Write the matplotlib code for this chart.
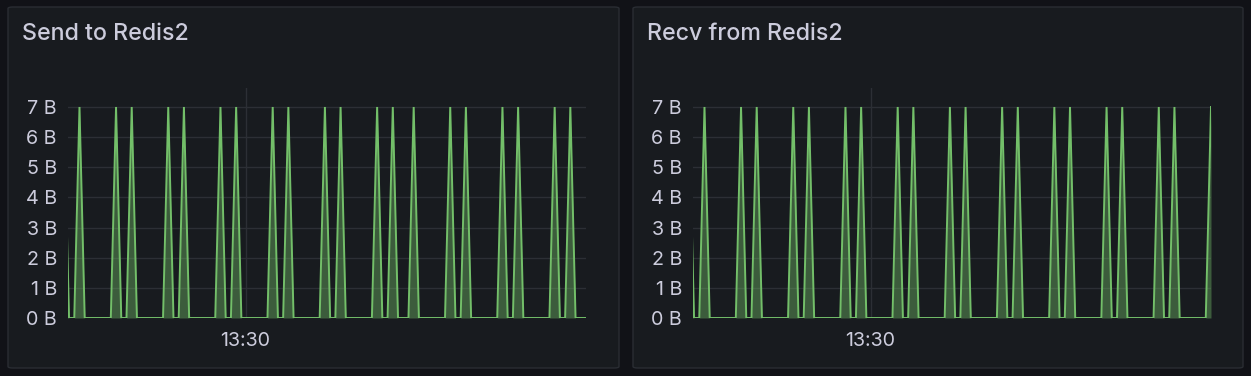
import numpy as np
import matplotlib
matplotlib.use('Agg')
import matplotlib.pyplot as plt
from matplotlib.patches import FancyBboxPatch

plt.rcParams['font.family'] = ['Inter', 'DejaVu Sans']

# sample index (one step per scrape) and bytes for each panel
send_idx = list(range(-3, 98))
send_peaks = [-3, 0, 7, 10, 17, 20, 27, 30, 37, 40, 47, 50, 57, 60, 64, 71, 74, 81, 84, 91, 94]
send_bytes = [7 if i in send_peaks else 0 for i in send_idx]

recv_idx = list(range(-3, 98))
recv_peaks = [-3, 0, 7, 10, 17, 20, 27, 30, 37, 40, 47, 50, 57, 60, 67, 70, 77, 80, 87, 90, 97]
recv_bytes = [7 if i in recv_peaks else 0 for i in recv_idx]

y_ticks = [0, 1, 2, 3, 4, 5, 6, 7]
y_labels = [f'{v} B' for v in y_ticks]
time_tick = 31.8
time_label = '13:30'

panels = [
    ('Send to Redis2', send_idx, send_bytes),
    ('Recv from Redis2', recv_idx, recv_bytes),
]

W, H = 1251, 376
fig = plt.figure(figsize=(W / 100, H / 100), dpi=100)
fig.patch.set_facecolor('#111217')

panel_boxes = [(8, 7, 611, 361), (633, 7, 610, 361)]
axes_boxes = [(68, 88, 518, 230), (693, 88, 518, 230)]

text_col = '#ccccdc'
green = '#73bf69'

for (title, xs, ys), (px, py, pw, ph), (ax_x, ax_y, ax_w, ax_h) in zip(panels, panel_boxes, axes_boxes):
    box = FancyBboxPatch((px / W, 1 - (py + ph) / H), pw / W, ph / H,
                         boxstyle='round,pad=0,rounding_size=0.004',
                         transform=fig.transFigure, facecolor='#181b1f',
                         edgecolor='#2a2d33', linewidth=1, zorder=-5)
    fig.patches.append(box)
    fig.text((px + 14) / W, 1 - 34 / H, title, color=text_col, fontsize=16.7,
             fontweight='medium', va='center', ha='left')

    ax = fig.add_axes([ax_x / W, 1 - (ax_y + ax_h) / H, ax_w / W, ax_h / H])
    ax.set_facecolor('none')
    ax.plot(xs, ys, color=green, linewidth=1.4, zorder=3, solid_joinstyle='miter')
    ax.fill_between(xs, ys, 0, color=green, alpha=0.4, linewidth=0, zorder=2)
    ax.set_xlim(-2.2, 97)
    ax.set_ylim(0, 7.63)
    for v in y_ticks:
        ax.axhline(v, color='#2c2f35', linewidth=1, zorder=1)
    ax.axvline(time_tick, color='#2c2f35', linewidth=1, zorder=1)
    ax.set_yticks(y_ticks)
    ax.set_yticklabels(y_labels)
    ax.set_xticks([time_tick])
    ax.set_xticklabels([time_label])
    ax.tick_params(axis='both', length=0, colors=text_col, labelsize=14.2)
    ax.tick_params(axis='y', pad=8)
    ax.tick_params(axis='x', pad=10)
    for s in ax.spines.values():
        s.set_visible(False)

fig.savefig('out.png', dpi=100, facecolor=fig.get_facecolor())
